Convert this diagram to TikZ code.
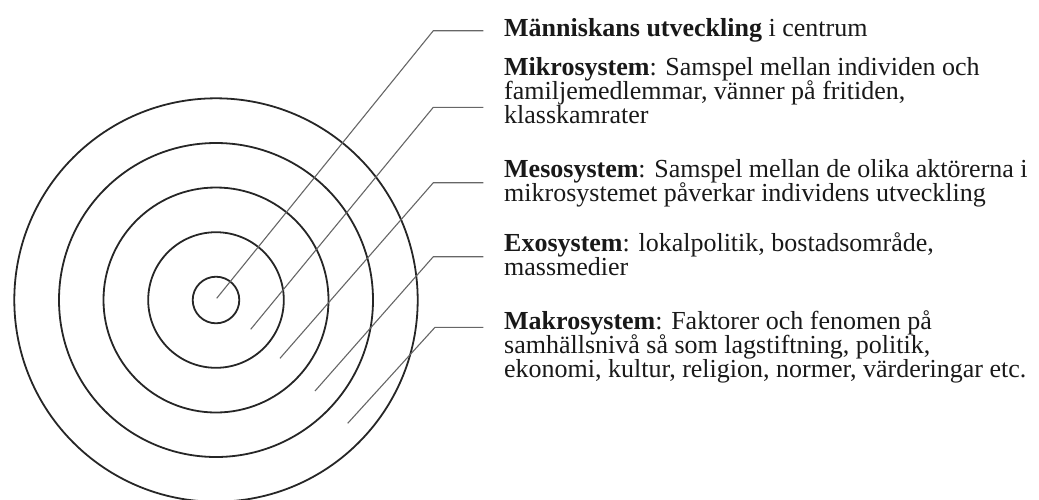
\documentclass[tikz,border=0pt]{standalone}
\usepackage{fontspec}
\setmainfont{Liberation Serif}
\begin{document}
\begin{tikzpicture}[x=1pt,y=-1pt,
  ring/.style={draw=black!85, line width=1.8pt},
  leader/.style={draw=black!60, line width=1.1pt},
  label/.style={anchor=base west, inner sep=0pt, align=left, text=black!90,
    font=\fontsize{26}{24}\selectfont}]
\lineskiplimit=-100pt\relax
\useasboundingbox (0,0) rectangle (1039,499);
\coordinate (c) at (216,300);
\begin{scope}
  \clip (0,0) rectangle (1039,499);
  \foreach \r in {23.3,67.8,112.5,157,201.7} {
    \draw[ring] (c) circle[radius=\r];
  }
\end{scope}
% leader coordinates
\coordinate (s1) at (216.7,298.3); \coordinate (k1) at (433.3,30.7);  \coordinate (e1) at (483.3,30.7);
\coordinate (s2) at (250.7,329.3); \coordinate (k2) at (433.3,107.3); \coordinate (e2) at (483.3,107.3);
\coordinate (s3) at (280,358.3);   \coordinate (k3) at (433.3,182.7); \coordinate (e3) at (483.3,182.7);
\coordinate (s4) at (315,391);     \coordinate (k4) at (433.3,256.7); \coordinate (e4) at (483.3,256.7);
\coordinate (s5) at (347.7,423.3); \coordinate (k5) at (435,327.3);   \coordinate (e5) at (483.3,327.3);
\foreach \i in {1,...,5} {
  \draw[leader] (s\i) -- (k\i) -- (e\i);
}
% labels (anchor = baseline of the last line)
\node[label] (t1) at (504,36.5) {\textbf{Människans utveckling} i centrum};
\node[label] (t2) at (504,123.5) {\textbf{Mikrosystem}: Samspel mellan individen och\\familjemedlemmar, vänner på fritiden,\\klasskamrater};
\node[label] (t3) at (504,201.5) {\textbf{Mesosystem}: Samspel mellan de olika aktörerna i\\mikrosystemet påverkar individens utveckling};
\node[label] (t4) at (504,275.5) {\textbf{Exosystem}: lokalpolitik, bostadsområde,\\massmedier};
\node[label] (t5) at (504,377.5) {\textbf{Makrosystem}: Faktorer och fenomen på\\samhällsnivå så som lagstiftning, politik,\\ekonomi, kultur, religion, normer, värderingar etc.};
\end{tikzpicture}
\end{document}
